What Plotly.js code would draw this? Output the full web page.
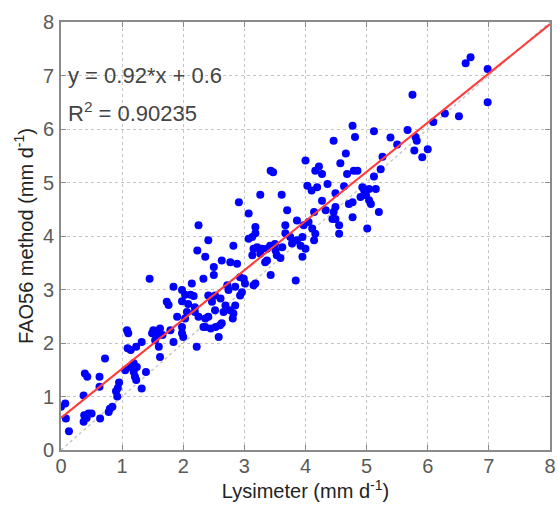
<!DOCTYPE html>
<html>
<head>
<meta charset="utf-8">
<script src="https://cdn.plot.ly/plotly-3.0.1.min.js"></script>
<style>html,body{margin:0;padding:0;background:#fff;}#chart{width:558px;height:505px;}</style>
</head>
<body>
<div id="chart"></div>
<script>
// Lysimeter ET (mm/d) and FAO56 ET (mm/d)
const pairs = [
[0.00,0.81],[0.07,0.87],[0.08,0.59],[0.13,0.35],[0.37,0.53],[0.38,0.65],[0.45,0.68],[0.50,0.68],[0.42,0.60],[0.37,1.02],[0.39,1.43],[0.43,1.37],[0.63,1.37],[0.72,1.71],[0.63,1.18],[0.64,0.59],[0.78,0.71],[0.80,0.77],[0.84,0.81],[0.92,1.00],[0.90,1.10],[0.93,1.16],[0.95,1.26],
[1.08,2.24],[1.10,2.18],[1.09,1.90],[1.14,1.87],[1.23,1.93],[1.32,2.02],[1.05,1.49],[1.13,1.55],[1.19,1.62],[1.24,1.55],[1.19,1.46],[1.21,1.37],[1.23,1.31],[1.32,1.15],[1.39,1.46],[1.45,3.20],[1.51,2.24],[1.57,2.15],[1.62,2.27],[1.66,2.15],[1.60,1.93],[1.62,1.74],[1.54,2.05],[1.49,2.18],[1.55,2.22],[1.84,3.05],[1.73,2.77],[1.76,2.71],[1.84,2.02],[1.79,2.24],[1.90,2.49],[1.98,2.30],[1.98,2.18],[2.00,2.11],[1.98,2.99],[1.98,2.78],
[2.03,2.90],[2.12,2.90],[2.17,2.88],[2.08,2.73],[2.19,2.67],[2.03,2.46],[2.06,2.58],[2.19,2.58],[2.14,3.11],[2.25,4.20],[2.23,3.73],[2.36,3.61],[2.41,3.92],[2.33,3.20],[2.50,3.42],[2.50,3.27],[2.63,3.54],[2.77,3.51],[2.88,3.48],[2.82,3.82],[2.91,4.63],[2.72,3.08],[2.74,2.99],[2.85,3.05],[2.93,3.23],[2.99,3.20],[2.96,2.95],[2.93,2.89],[2.61,2.83],[2.69,2.70],[2.77,2.61],[2.85,2.70],[2.82,2.55],[2.66,2.58],[2.41,2.89],[2.52,2.89],[2.47,2.77],[2.52,2.61],[2.41,2.49],[2.36,2.46],[2.25,2.49],[2.63,2.37],[2.81,2.46],[2.22,1.93],[2.33,2.30],[2.45,2.27],[2.53,2.30],[2.58,2.11],[2.60,2.33],[2.36,2.30],
[3.01,3.11],[3.15,3.08],[3.18,3.11],[3.07,3.95],[3.13,3.98],[3.18,4.05],[3.18,4.17],[3.07,4.42],[3.26,4.77],[3.43,5.22],[3.47,5.19],[3.61,4.77],[3.70,4.48],[3.67,4.20],[3.67,4.05],[3.15,3.76],[3.21,3.79],[3.29,3.76],[3.37,3.76],[3.42,3.82],[3.50,3.85],[3.13,3.64],[3.26,3.67],[3.37,3.54],[3.34,3.51],[3.51,3.73],[3.53,3.64],[3.59,3.59],[3.62,3.79],[3.75,3.98],[3.78,3.86],[3.86,3.92],[3.92,3.82],[3.95,3.98],[4.00,3.76],[3.95,3.61],[3.84,3.17],[3.43,3.27],[3.86,4.29],[3.97,4.20],
[4.00,5.41],[4.16,5.22],[4.22,5.30],[4.27,5.16],[4.03,4.94],[4.10,4.85],[4.19,4.91],[4.36,4.97],[4.05,4.26],[4.16,4.04],[4.11,4.14],[4.14,3.92],[4.27,4.66],[4.14,4.45],[4.33,4.48],[4.46,4.45],[4.49,4.54],[4.44,4.32],[4.49,4.32],[4.55,4.20],[4.55,4.04],[4.77,4.35],[4.46,5.78],[4.57,5.36],[4.66,5.54],[4.77,6.06],[4.81,5.85],[4.63,4.93],[4.49,4.80],[4.68,5.16],[4.79,5.22],[4.85,5.22],[4.71,4.60],[4.77,4.63],[4.93,4.91],[4.96,4.85],[4.99,4.76],[4.90,4.73],
[5.04,4.88],[5.15,4.88],[5.04,4.67],[5.07,4.60],[5.20,4.45],[5.01,4.14],[5.12,5.11],[5.23,5.25],[5.26,5.48],[5.12,5.96],[5.39,5.84],[5.50,5.71],[5.67,5.98],[5.75,6.64],[5.80,5.85],[5.82,5.78],[5.78,5.60],[6.00,5.62],[5.91,5.47],[6.09,6.13],[6.28,6.29],[6.51,6.24],[6.62,7.23],[6.70,7.34],[6.98,7.12],[6.98,6.50]
];
const lysimeter = pairs.map(p => p[0]);
const fao56 = pairs.map(p => p[1]);

const slope = 0.92;
const intercept = 0.6;
const r2 = 0.90235;
const axisRange = [0, 8];
const tickVals = [0,1,2,3,4,5,6,7,8];

const fitX = axisRange.slice();
const fitY = fitX.map(x => slope * x + intercept);

const FONT = 'Liberation Sans, Arial, sans-serif';

const traces = [
  { x: axisRange, y: axisRange, mode: 'lines', line: {color: '#c8c8c8', width: 1.5, dash: 'dot'}, hoverinfo: 'skip', showlegend: false },
  { x: lysimeter, y: fao56, mode: 'markers', marker: {color: '#0000ff', size: 8}, showlegend: false },
  { x: fitX, y: fitY, mode: 'lines', line: {color: '#ff3b3b', width: 2}, showlegend: false }
];

const axisCommon = {
  range: axisRange, tickvals: tickVals, ticktext: tickVals.map(String),
  showline: true, linecolor: '#8a8a8a', linewidth: 2, mirror: 'ticks',
  ticks: 'inside', ticklen: 5, tickcolor: '#8a8a8a', tickwidth: 1,
  showgrid: true, gridcolor: '#c4c4c4', griddash: 'dot', gridwidth: 1,
  zeroline: false,
  tickfont: {family: FONT, size: 20, color: '#5a5a5a'}
};

const layout = {
  width: 558, height: 505,
  margin: {l: 61, r: 8, t: 22, b: 55},
  paper_bgcolor: '#ffffff', plot_bgcolor: '#ffffff',
  xaxis: Object.assign({}, axisCommon, {
    ticklabelstandoff: -3,
    title: {text: 'Lysimeter (mm d<sup>-1</sup>)', font: {family: FONT, size: 20, color: '#222'}, standoff: 6}
  }),
  yaxis: Object.assign({}, axisCommon, {
    ticklabelstandoff: 1,
    title: {text: 'FAO56 method (mm d<sup>-1</sup>)', font: {family: FONT, size: 20, color: '#222'}, standoff: 4}
  }),
  annotations: [
    { xref: 'paper', yref: 'paper', x: 0.01, y: 0.876, xanchor: 'left', yanchor: 'middle', showarrow: false,
      text: 'y = ' + slope + '*x + ' + intercept, font: {family: FONT, size: 22, color: '#444'} },
    { xref: 'paper', yref: 'paper', x: 0.01, y: 0.79, xanchor: 'left', yanchor: 'middle', showarrow: false,
      text: 'R<sup>2</sup> = ' + r2, font: {family: FONT, size: 22, color: '#444'} }
  ]
};

Plotly.newPlot('chart', traces, layout, {displayModeBar: false, staticPlot: true});
</script>
</body>
</html>
